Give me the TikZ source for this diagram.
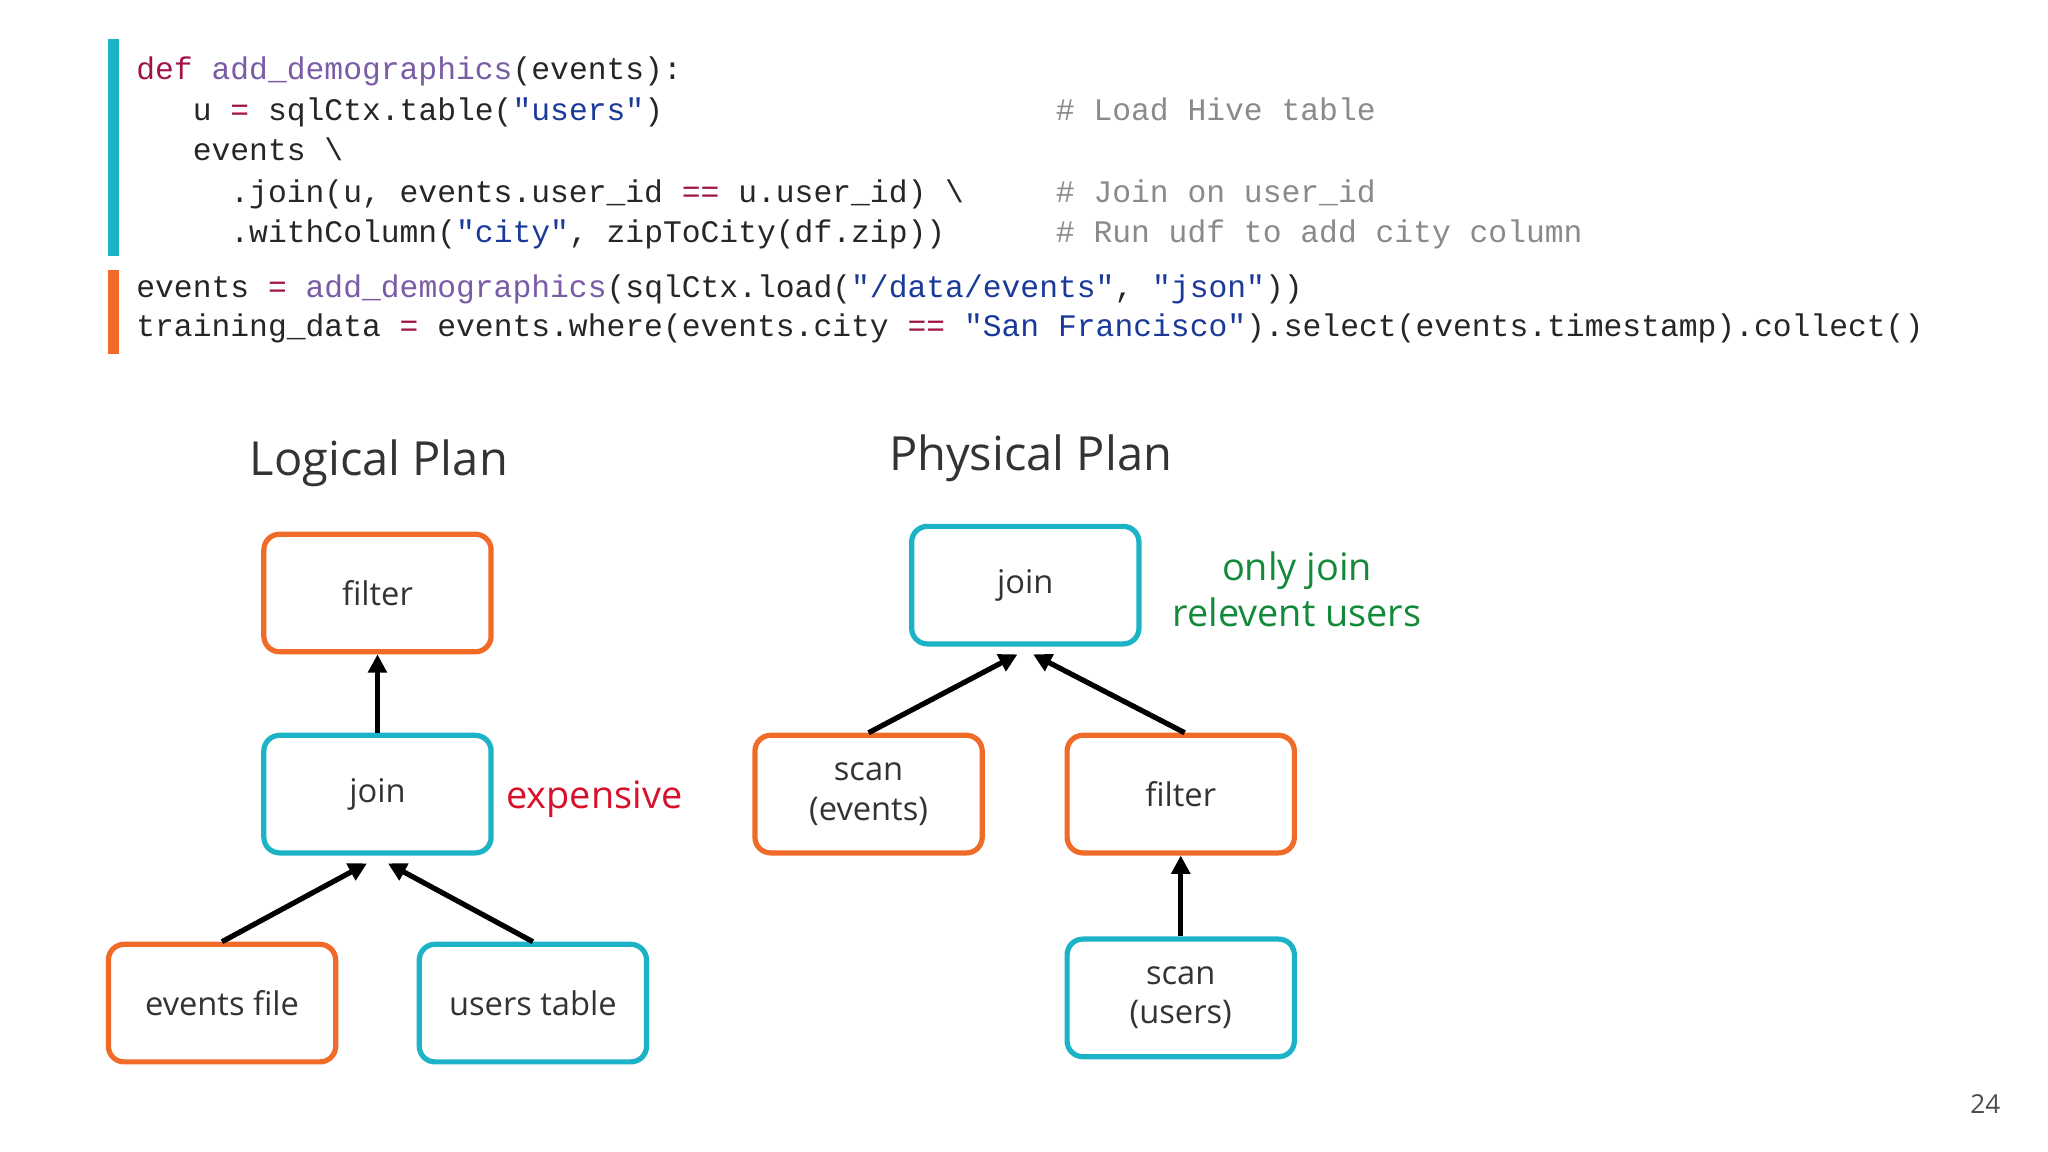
\documentclass[tikz,border=0pt]{standalone}
\usepackage{fontspec}
\setmainfont{Open Sans}
\newfontfamily\codefont{Liberation Mono}
\usetikzlibrary{arrows.meta}
\definecolor{teal}{HTML}{1DB3C6}
\definecolor{orng}{HTML}{F06A28}
\definecolor{kw}{HTML}{A0144A}
\definecolor{fn}{HTML}{7A5BA6}
\definecolor{str}{HTML}{1A3A9A}
\definecolor{cmt}{HTML}{8A8A8A}
\definecolor{grn}{HTML}{128A3A}
\definecolor{rd}{HTML}{D8102A}
\begin{document}
\begin{tikzpicture}[x=0.5pt,y=-0.5pt,
 box/.style={draw=#1,line width=2pt,rounded corners=6pt,minimum width=87pt,minimum height=45pt,inner sep=0pt,font=\fontsize{12.5}{15}\selectfont,text=black!80,align=center},
 code/.style={anchor=base west,inner sep=0pt,font=\codefont\fontsize{12}{13}\selectfont,text=black!85},
 arr/.style={line width=2pt,-{Triangle[length=7pt,width=7pt]}},
 ttl/.style={font=\fontsize{18}{22}\selectfont,text=black!80}]
\useasboundingbox (0,0) rectangle (1568,882);
\fill[teal] (83,30) rectangle (91,196);
\fill[orng] (83,207) rectangle (91,271);
\node[code] (c1) at (104,61) {\textcolor{kw}{def} \textcolor{fn}{add\_demographics}(events):};
\node[code] (c2) at (104,92) {\ \ \ u \textcolor{kw}{=} sqlCtx.table(\textcolor{str}{"users"})};
\node[code] (c3) at (104,123) {\ \ \ events \textbackslash};
\node[code] (c4) at (104,155) {\ \ \ \ \ .join(u, events.user\_id \textcolor{kw}{==} u.user\_id) \textbackslash};
\node[code] (c5) at (104,186) {\ \ \ \ \ .withColumn(\textcolor{str}{"city"}, zipToCity(df.zip))};
\node[code,text=cmt] (m1) at (808,92) {\# Load Hive table};
\node[code,text=cmt] (m2) at (808,155) {\# Join on user\_id};
\node[code,text=cmt] (m3) at (808,186) {\# Run udf to add city column};
\node[code] (c6) at (104,228) {events \textcolor{kw}{=} \textcolor{fn}{add\_demographics}(sqlCtx.load(\textcolor{str}{"/data/events"}, \textcolor{str}{"json"}))};
\node[code] (c7) at (104,258) {training\_data \textcolor{kw}{=} events.where(events.city \textcolor{kw}{==} \textcolor{str}{"San Francisco"}).select(events.timestamp).collect()};
\node[ttl] (t1) at (290,355) {Logical Plan};
\node[ttl] (t2) at (789,351) {Physical Plan};
\node[box=orng] (lf) at (289,454) {filter};
\node[box=teal] (lj) at (289,608) {join};
\node[box=orng] (ef) at (170,768) {events file};
\node[box=teal] (ut) at (408,768) {users table};
\node[box=teal] (pj) at (785,448) {join};
\node[box=orng] (se) at (665,608) {scan\\(events)};
\node[box=orng] (pf) at (904,608) {filter};
\node[box=teal] (su) at (904,764) {scan\\(users)};
\node[font=\fontsize{14.5}{17.5}\selectfont,text=rd] (ex) at (455,612) {expensive};
\node[font=\fontsize{14.5}{17.5}\selectfont,text=grn,align=center] (oj) at (993,451) {only join\\relevent users};
\node[font=\fontsize{10}{12}\selectfont,text=black!70] (pg) at (1520,845) {24};
\draw[arr] (lj.north) -- (lf.south);
\draw[arr] (ef.north) -- ([xshift=-4pt,yshift=-3pt]lj.south);
\draw[arr] (ut.north) -- ([xshift=4pt,yshift=-3pt]lj.south);
\draw[arr] (se.north) -- ([xshift=-3pt,yshift=-3pt]pj.south);
\draw[arr] ([xshift=1.5pt]pf.north) -- ([xshift=3pt,yshift=-3pt]pj.south);
\draw[arr] (su.north) -- (pf.south);
\end{tikzpicture}
\end{document}
